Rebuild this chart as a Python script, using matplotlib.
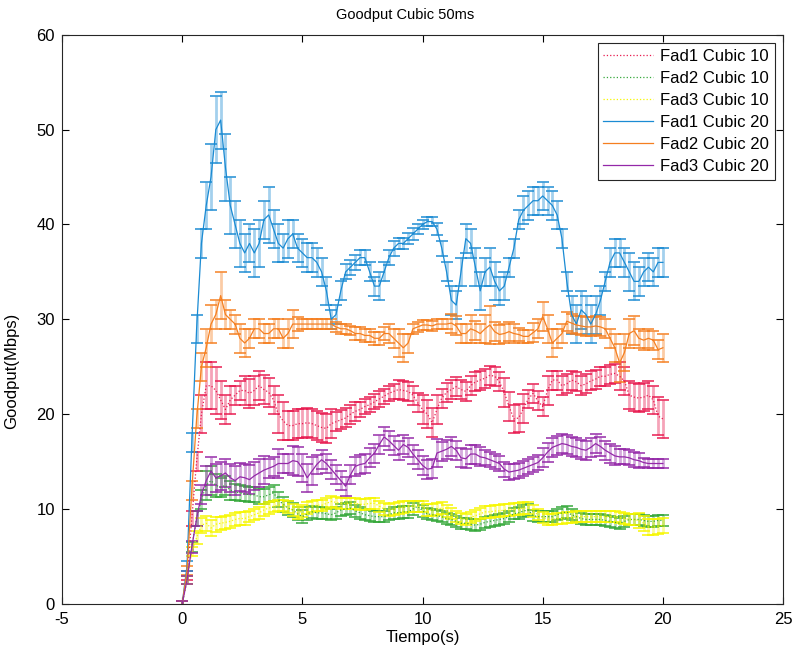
import numpy as np
import matplotlib
matplotlib.use("Agg")
import matplotlib.pyplot as plt

plt.rcParams['font.family'] = ['Liberation Sans', 'DejaVu Sans']
plt.rcParams['axes.unicode_minus'] = False

# sample times (s)
t = np.round(np.arange(0, 20.01, 0.2), 1)

fad1_10 = [0, 3, 9, 15, 20, 23,
           23, 22.5, 21.5, 20.5, 21.5,
           22, 22.5, 22.5, 22.2, 22.5, 23, 22.6, 22.3, 21.5, 20,
           19.3, 18.8, 18.8, 19, 19, 19.1, 19, 18.8, 18.6, 18.5,
           19, 19.2, 19.4, 19.6, 20, 20.3, 20.5, 20.8, 21, 21.3,
           21.6, 21.9, 22.2, 22.4, 22.6, 22.5, 22.4, 22, 21.2, 20.5,
           20, 19.1, 20.5, 21.7, 22.3, 22.6, 22.9, 22.6, 22.4, 23,
           23.4, 23.6, 23.8, 24.1, 24, 23.4, 22.3, 20.8, 19.5, 19.6,
           20.6, 21.6, 22.2, 21.4, 20.8, 22.5, 23.6, 23.6, 23, 23.2,
           23.6, 23.4, 23, 23.2, 23.5, 23.7, 24, 24, 24.2, 24.3,
           24, 23.5, 22, 21.8, 21.7, 21.8, 22, 21.5, 19.8, 19.5]
fad2_10 = [0, 2.5, 6, 9, 11, 12.5,
           13, 12.5, 12.3, 12.5, 12,
           11.8, 11.7, 11.6, 11.5, 11.5, 11.3, 11.3, 11.5, 11.7, 11,
           10.5, 10.1, 9.9, 9.5, 9.2, 9.5, 9.7, 9.6, 9.6, 9.5,
           9.4, 9.6, 9.9, 10, 10.1, 9.8, 9.6, 9.4, 9.3, 9.2,
           9.2, 9.2, 9.4, 9.6, 9.6, 9.7, 9.7, 10, 10.3, 9.8,
           9.5, 9.4, 9.3, 9.2, 9, 8.9, 8.7, 8.5, 8.5, 8.4,
           8.3, 8.4, 8.6, 8.7, 8.8, 8.9, 9, 9.2, 9.5, 9.6,
           9.8, 9.9, 9.3, 9.2, 9.2, 9.2, 9.2, 9.4, 9.6, 9.7,
           9.4, 9.2, 9, 8.9, 8.9, 8.9, 8.9, 8.8, 8.7, 8.6,
           8.5, 8.7, 8.9, 8.9, 8.9, 8.8, 8.7, 8.7, 8.8, 8.8]
fad3_10 = [0, 2.5, 5.5, 7, 8.3, 8.5,
           8, 8.4, 8.5, 8.6, 8.7,
           8.9, 9, 9, 9.2, 9.4, 9.6, 9.9, 10.1, 10.3, 10.4,
           10.4, 10.2, 9.9, 9.6, 9.8, 10.1, 10.3, 10.4, 10.4, 10.6,
           10.8, 10.7, 10.6, 10.6, 10.6, 10.6, 10.5, 10.5, 10.6, 10.6,
           10.3, 10, 9.9, 10, 10.1, 10.2, 10.3, 10.3, 10.3, 10.3,
           9.9, 9.9, 10, 10.1, 9.8, 9.5, 9.2, 9, 8.9, 9.1,
           9.3, 9.5, 9.7, 9.7, 9.8, 9.8, 9.9, 9.9, 10, 10,
           10.1, 10.1, 9.8, 9.4, 9.1, 8.9, 8.9, 9, 9, 9.1,
           9.1, 9.2, 9.2, 9.2, 9.2, 9.2, 9.2, 9.2, 9.2, 9.2,
           9.1, 9, 8.9, 8.9, 8.8, 8.5, 8.1, 8.1, 8.2, 8.3]
fad1_20 = [0, 4, 17, 29, 38, 42,
           45, 50, 51, 46, 42,
           40, 38, 37, 38, 37, 38, 40.5, 41, 39.5, 38,
           37.5, 38.5, 39, 37.5, 37, 36.5, 36.5, 36, 35, 33,
           30, 30.5, 33, 35, 35.5, 36, 36.5, 36.5, 35, 33.5,
           33.5, 35, 36.5, 37.5, 38, 38, 38.5, 39, 39.5, 40,
           40.3, 40.3, 39.5, 37.5, 35, 32, 31.5, 35, 38.5, 38,
           35.5, 33, 35, 35.5, 34, 33, 33.5, 35.5, 37.5, 40.5,
           41.5, 42, 42.5, 42.5, 43, 42.5, 42, 41, 38.5, 34,
           30.5, 29.5, 31, 30.5, 29.5, 30.5, 32, 34, 36, 37,
           37, 36, 35, 34, 34, 35, 35.5, 35, 36, 36]
fad2_20 = [0, 3.5, 12, 19.5, 25, 27,
           29.5, 30.5, 32.5, 30.5, 30,
           29.5, 28, 27.5, 28, 29, 29, 28.5, 28.5, 29, 29,
           28, 28.5, 29.5, 29.5, 29.5, 29.5, 29.5, 29.5, 29.5, 29.5,
           29.5, 29.2, 29, 29, 28.8, 28.5, 28.5, 28.3, 28.3, 28,
           28, 28.5, 28.5, 28, 27.5, 27, 27.5, 29, 29.2, 29.4,
           29.4, 29.3, 29.5, 29.5, 29.5, 29.6, 29.3, 28.5, 28.5, 29,
           28.8, 28.5, 29, 29.4, 28.7, 28.4, 28.5, 28.7, 28.5, 28.4,
           28.2, 28.2, 28.6, 29, 30.3, 29, 27.5, 28, 28.5, 29.8,
           29.6, 29.4, 29.3, 29.2, 29.2, 29.3, 29.2, 29, 28, 27,
           25.4, 26.5, 28.5, 28.8, 28, 27.8, 28, 27.8, 26.8, 27]
fad3_20 = [0, 2.5, 6, 9, 11.5, 13,
           14, 13.3, 13.5, 13.8, 13.3,
           13, 13.4, 13.3, 13.1, 13.5, 13.8, 14.1, 14.3, 14.5, 14.8,
           14.8, 14.8, 15.1, 15, 14.3, 13.3, 14, 14.7, 15.2, 14.8,
           14.2, 13.6, 13, 12.4, 13.6, 14.5, 14.7, 14.8, 15.4, 15.9,
           16.8, 17.6, 17.2, 16.7, 16.2, 16.8, 16.5, 15.8, 15.2, 14.6,
           14.2, 14.3, 15.9, 16.1, 16.3, 16.6, 16.2, 15.4, 15.3, 15.8,
           15.8, 15.5, 15.4, 15.2, 15, 14.8, 14.2, 13.9, 14, 14.1,
           14.3, 14.5, 14.7, 14.9, 15.4, 16, 16.5, 16.7, 16.9, 16.8,
           16.6, 16.5, 16.3, 16.2, 16.5, 16.9, 16.6, 16.2, 15.9, 15.6,
           15.5, 15.5, 15.4, 15.2, 15.1, 14.9, 14.8, 14.8, 14.8, 14.8]

# half-widths of the error bars
err1_10 = [0.3, 0.5, 0.8, 1.0, 2.0, 2.5,
           2.5, 2.5, 2.0, 1.5, 1.5,
           1.0, 1.0, 1.5, 1.5, 1.5, 1.5, 1.5, 1.5, 1.5, 2.0,
           2.0, 1.5, 1.5, 1.5, 1.5, 1.5, 1.5, 1.5, 1.5, 1.5,
           1.5, 1.0, 1.0, 1.0, 1.0, 1.0, 0.8, 0.8, 0.8, 0.8,
           0.8, 0.8, 0.8, 0.8, 1.0, 1.0, 1.0, 1.0, 1.0, 1.5,
           1.5, 1.5, 1.5, 1.0, 1.0, 1.0, 1.0, 1.0, 1.0, 1.0,
           1.0, 1.0, 1.0, 1.0, 1.0, 1.0, 1.5, 1.5, 1.5, 1.5,
           1.5, 1.0, 1.0, 1.0, 1.0, 1.5, 1.0, 1.0, 1.0, 1.0,
           1.0, 1.0, 1.0, 1.0, 1.0, 1.0, 1.0, 1.0, 1.0, 1.0,
           1.5, 1.5, 1.5, 1.5, 1.5, 1.5, 1.5, 1.5, 2.0, 2.0]
err2_10 = [0.3, 0.4, 0.5, 0.8, 1.0, 1.5,
           1.5, 1.2, 1.0, 1.0, 1.0,
           0.8, 0.8, 0.8, 0.8, 0.8, 0.8, 0.8, 0.8, 0.8, 0.8,
           0.8, 0.7, 0.7, 0.7, 0.7, 0.7, 0.6, 0.6, 0.6, 0.6,
           0.6, 0.6, 0.6, 0.6, 0.6, 0.6, 0.6, 0.6, 0.6, 0.6,
           0.6, 0.6, 0.6, 0.6, 0.6, 0.6, 0.6, 0.6, 0.6, 0.6,
           0.6, 0.6, 0.6, 0.6, 0.6, 0.6, 0.6, 0.6, 0.6, 0.6,
           0.6, 0.6, 0.6, 0.6, 0.6, 0.6, 0.6, 0.6, 0.6, 0.6,
           0.6, 0.6, 0.6, 0.6, 0.6, 0.6, 0.6, 0.6, 0.6, 0.6,
           0.6, 0.6, 0.6, 0.6, 0.6, 0.6, 0.6, 0.6, 0.6, 0.6,
           0.6, 0.6, 0.6, 0.6, 0.6, 0.6, 0.6, 0.6, 0.6, 0.6]
err3_10 = [0.3, 0.4, 0.5, 0.7, 0.8, 0.8,
           0.8, 0.8, 0.7, 0.7, 0.7,
           0.7, 0.7, 0.7, 0.6, 0.6, 0.6, 0.6, 0.6, 0.6, 0.6,
           0.6, 0.6, 0.6, 0.6, 0.6, 0.6, 0.6, 0.6, 0.6, 0.6,
           0.6, 0.6, 0.6, 0.6, 0.6, 0.6, 0.6, 0.6, 0.6, 0.6,
           0.6, 0.6, 0.6, 0.6, 0.6, 0.6, 0.6, 0.6, 0.6, 0.6,
           0.6, 0.6, 0.6, 0.6, 0.6, 0.6, 0.6, 0.6, 0.6, 0.6,
           0.6, 0.6, 0.6, 0.6, 0.6, 0.6, 0.6, 0.6, 0.6, 0.6,
           0.6, 0.6, 0.6, 0.6, 0.6, 0.6, 0.6, 0.6, 0.6, 0.6,
           0.6, 0.6, 0.6, 0.6, 0.6, 0.6, 0.6, 0.6, 0.6, 0.6,
           0.6, 0.6, 0.6, 0.6, 0.8, 0.8, 0.8, 0.8, 0.8, 0.8]
err1_20 = [0.3, 0.5, 1.0, 1.5, 1.5, 2.5,
           3.5, 3.5, 3.0, 3.5, 3.0,
           2.5, 2.5, 2.0, 2.0, 2.5, 2.5, 2.0, 3.0, 2.0, 2.0,
           1.5, 2.0, 1.5, 1.5, 1.5, 1.5, 1.5, 1.5, 1.5, 1.5,
           1.0, 1.0, 1.0, 0.8, 0.8, 0.8, 0.8, 0.8, 1.0, 1.0,
           1.5, 1.0, 0.8, 0.8, 0.6, 0.6, 0.6, 0.6, 0.5, 0.5,
           0.5, 0.5, 0.6, 0.8, 1.0, 1.5, 1.5, 1.5, 1.5, 1.5,
           2.0, 2.0, 1.5, 2.0, 2.0, 1.5, 1.5, 1.0, 1.0, 1.0,
           1.5, 1.5, 1.5, 1.5, 1.5, 1.5, 1.5, 1.5, 1.0, 1.0,
           2.0, 2.0, 2.0, 2.0, 2.0, 2.0, 1.5, 1.0, 1.5, 1.5,
           1.5, 1.5, 2.0, 2.0, 1.5, 1.5, 1.5, 1.5, 1.5, 1.5]
err2_20 = [0.3, 0.5, 1.0, 1.0, 1.5, 2.0,
           2.0, 1.5, 2.5, 1.5, 1.0,
           1.0, 1.5, 1.5, 1.0, 1.0, 1.0, 1.0, 1.0, 1.0, 1.0,
           1.0, 1.5, 1.5, 0.7, 0.5, 0.5, 0.5, 0.5, 0.5, 0.5,
           0.5, 0.5, 0.5, 0.5, 0.5, 0.7, 0.7, 0.7, 0.7, 0.7,
           0.7, 0.7, 1.0, 1.0, 1.5, 1.5, 1.0, 0.5, 0.5, 0.5,
           0.5, 0.5, 0.5, 0.5, 0.5, 1.0, 1.0, 1.0, 1.0, 1.5,
           1.0, 1.0, 1.5, 2.0, 1.0, 1.0, 1.0, 1.0, 1.0, 0.7,
           0.7, 0.7, 1.0, 1.0, 1.5, 1.5, 1.5, 1.0, 1.0, 1.0,
           1.0, 1.0, 1.0, 1.0, 1.0, 1.0, 1.0, 1.0, 1.0, 1.5,
           2.0, 2.0, 1.5, 1.5, 1.0, 1.0, 1.0, 1.0, 1.0, 1.5]
err3_20 = [0.3, 0.4, 0.6, 0.8, 1.0, 1.5,
           1.5, 1.5, 1.5, 1.5, 1.5,
           1.5, 1.5, 1.5, 1.5, 1.5, 1.5, 1.5, 1.0, 1.0, 1.5,
           1.0, 1.0, 1.5, 1.5, 1.5, 1.5, 1.5, 1.0, 1.0, 1.0,
           1.0, 1.0, 1.0, 1.0, 1.0, 1.0, 1.0, 1.0, 1.0, 1.0,
           1.0, 1.0, 1.0, 1.0, 1.0, 1.0, 1.0, 1.0, 1.0, 1.0,
           1.0, 1.0, 1.5, 1.0, 1.0, 1.0, 1.0, 1.0, 1.0, 1.0,
           1.0, 1.0, 0.8, 0.8, 0.8, 0.8, 0.8, 0.8, 0.8, 0.8,
           0.8, 0.8, 0.8, 0.8, 1.0, 1.0, 1.0, 1.0, 1.0, 1.0,
           1.0, 1.0, 1.0, 1.0, 1.0, 1.0, 1.0, 1.0, 1.0, 1.0,
           0.8, 0.8, 0.8, 0.8, 0.8, 0.5, 0.5, 0.5, 0.5, 0.5]

labels = ["Fad1 Cubic 10", "Fad2 Cubic 10", "Fad3 Cubic 10",
          "Fad1 Cubic 20", "Fad2 Cubic 20", "Fad3 Cubic 20"]
values = [fad1_10, fad2_10, fad3_10, fad1_20, fad2_20, fad3_20]
errors = [err1_10, err2_10, err3_10, err1_20, err2_20, err3_20]
colors = ["#e8194f", "#35a83a", "#f7f700", "#1b8bd3", "#f57f20", "#9428a8"]
styles = [":", ":", ":", "-", "-", "-"]

fig = plt.figure(figsize=(7.95, 6.55), dpi=100)
ax = fig.add_axes([0.078, 0.078, 0.907, 0.869])

handles = []
for lab, y, e, c, ls in zip(labels, values, errors, colors, styles):
    assert len(y) == len(t) and len(e) == len(t)
    line, caps, bars = ax.errorbar(t, y, yerr=e, color=c, ls=ls, lw=0.9,
                                   elinewidth=2.0, capsize=4.5, capthick=1.2,
                                   label=lab)
    for b in bars:
        b.set_alpha(0.4)
    for cp in caps:
        cp.set_alpha(0.9)
    handles.append(line)

ax.set_xlim(-5, 25)
ax.set_ylim(0, 60)
ax.set_xticks(range(-5, 26, 5))
ax.set_yticks(range(0, 61, 10))
ax.tick_params(direction="in", top=True, right=True, labelsize=12, length=5)
ax.tick_params(axis="x", pad=6)
ax.tick_params(axis="y", pad=5)
for s in ax.spines.values():
    s.set_color("#262626")
    s.set_linewidth(0.8)

fig.text(405 / 795, 1 - 15 / 655, "Goodput Cubic 50ms", fontsize=10.5,
         ha="center", va="center")
ax.set_xlabel("Tiempo(s)", fontsize=12, labelpad=2)
ax.set_ylabel("Goodput(Mbps)", fontsize=12, labelpad=6)
ax.yaxis.set_label_coords(-0.06, 0.41)

leg = ax.legend(handles, labels, loc="upper right", fontsize=12,
                fancybox=False, framealpha=1, edgecolor="#262626",
                borderaxespad=0.5, handlelength=3.0, labelspacing=0.42,
                borderpad=0.35, handletextpad=0.4)
leg.get_frame().set_linewidth(0.8)

fig.savefig("out.png", dpi=100)
